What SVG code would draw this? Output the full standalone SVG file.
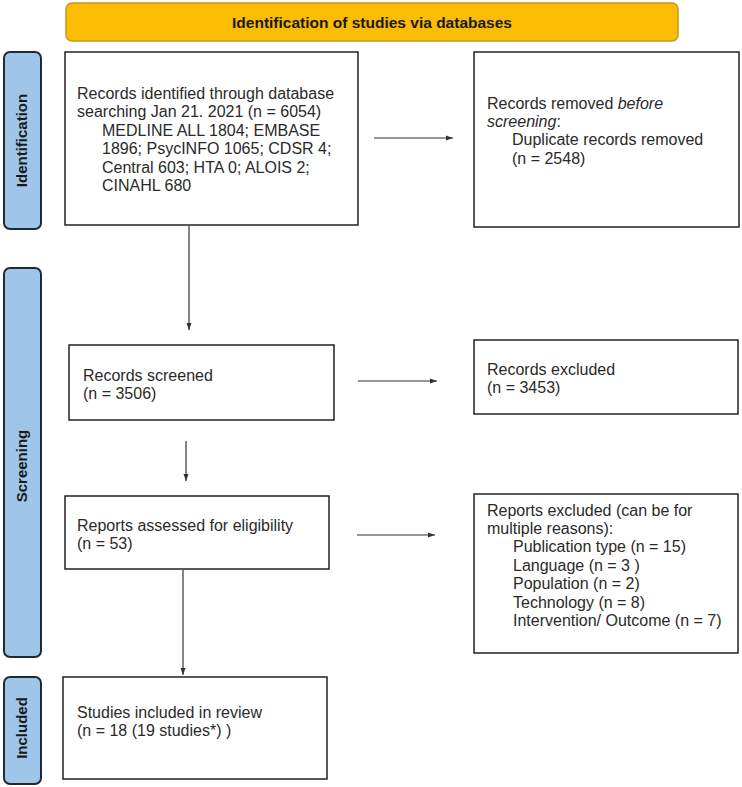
<svg xmlns="http://www.w3.org/2000/svg" width="742" height="787" viewBox="0 0 742 787">
<style>
.box{fill:#fff;stroke:#222;stroke-width:1.5}
.side{fill:#9fc5e8;stroke:#1e2a36;stroke-width:2}
.hdr{fill:#fbbc04;stroke:#c9971c;stroke-width:1.5}
.t{font-family:"Liberation Sans",Arial,sans-serif;font-size:16px;fill:#2a2a2a}
.b{font-family:"Liberation Sans",Arial,sans-serif;font-weight:bold;font-size:15px;fill:#1a1a1a}
.c{stroke:#333;stroke-width:1.2;fill:none}
</style>
<defs>
<marker id="ah" markerUnits="userSpaceOnUse" markerWidth="8" markerHeight="6" refX="7" refY="3" orient="auto">
<path d="M0,0.5 L7,3 L0,5.5 Z" fill="#333"/>
</marker>
</defs>
<g id="header">
<rect class="hdr" x="66" y="3" width="612" height="38" rx="6"/>
<text class="b" x="372" y="28" text-anchor="middle" style="font-size:15.5px">Identification of studies via databases</text>
</g>
<g id="phase-identification">
<rect class="side" x="4" y="52" width="37" height="177" rx="6"/>
<text class="b" transform="translate(27,140.5) rotate(-90)" text-anchor="middle">Identification</text>
</g>
<g id="phase-screening">
<rect class="side" x="4" y="268" width="37" height="389" rx="6"/>
<text class="b" transform="translate(27,466) rotate(-90)" text-anchor="middle">Screening</text>
</g>
<g id="phase-included">
<rect class="side" x="4" y="677" width="37" height="107" rx="6"/>
<text class="b" transform="translate(27,728) rotate(-90)" text-anchor="middle">Included</text>
</g>
<g id="records-identified">
<rect class="box" x="65" y="52" width="293" height="173"/>
<text class="t" x="77" y="99">Records identified through database</text>
<text class="t" x="77" y="117.4">searching Jan 21. 2021 (n = 6054)</text>
<text class="t" x="102" y="135.8">MEDLINE ALL 1804; EMBASE</text>
<text class="t" x="102" y="154.2">1896; PsycINFO 1065; CDSR 4;</text>
<text class="t" x="102" y="172.6">Central 603; HTA 0; ALOIS 2;</text>
<text class="t" x="102" y="191">CINAHL 680</text>
</g>
<g id="records-removed">
<rect class="box" x="474" y="52" width="265" height="175"/>
<text class="t" x="487" y="108.5">Records removed <tspan font-style="italic">before</tspan></text>
<text class="t" x="487" y="126.9"><tspan font-style="italic">screening</tspan>:</text>
<text class="t" x="512" y="145.3">Duplicate records removed</text>
<text class="t" x="512" y="163.7">(n = 2548)</text>
</g>
<g id="records-screened">
<rect class="box" x="69" y="345" width="265" height="75"/>
<text class="t" x="83" y="380.5">Records screened</text>
<text class="t" x="83" y="398.9">(n = 3506)</text>
</g>
<g id="records-excluded">
<rect class="box" x="474" y="340" width="264" height="74"/>
<text class="t" x="487" y="374.5">Records excluded</text>
<text class="t" x="487" y="392.9">(n = 3453)</text>
</g>
<g id="reports-assessed">
<rect class="box" x="65" y="496" width="264" height="73"/>
<text class="t" x="77" y="530.5">Reports assessed for eligibility</text>
<text class="t" x="77" y="548.9">(n = 53)</text>
</g>
<g id="reports-excluded">
<rect class="box" x="474" y="494" width="264" height="159"/>
<text class="t" x="487" y="515.5">Reports excluded (can be for</text>
<text class="t" x="487" y="533.9">multiple reasons):</text>
<text class="t" x="513" y="552.3">Publication type (n = 15)</text>
<text class="t" x="513" y="570.7">Language (n = 3 )</text>
<text class="t" x="513" y="589.1">Population (n = 2)</text>
<text class="t" x="513" y="607.5">Technology (n = 8)</text>
<text class="t" x="513" y="625.9">Intervention/ Outcome (n = 7)</text>
</g>
<g id="studies-included">
<rect class="box" x="63" y="677" width="264" height="102"/>
<text class="t" x="77" y="717.5">Studies included in review</text>
<text class="t" x="77" y="735.9">(n = 18 (19 studies*) )</text>
</g>
<g id="connectors">
<line class="c" x1="374" y1="138" x2="453" y2="138" marker-end="url(#ah)"/>
<line class="c" x1="189" y1="226" x2="189" y2="330" marker-end="url(#ah)"/>
<line class="c" x1="358" y1="381" x2="437" y2="381" marker-end="url(#ah)"/>
<line class="c" x1="186" y1="441" x2="186" y2="481" marker-end="url(#ah)"/>
<line class="c" x1="357" y1="535" x2="435" y2="535" marker-end="url(#ah)"/>
<line class="c" x1="183" y1="570" x2="183" y2="675" marker-end="url(#ah)"/>
</g>
</svg>
